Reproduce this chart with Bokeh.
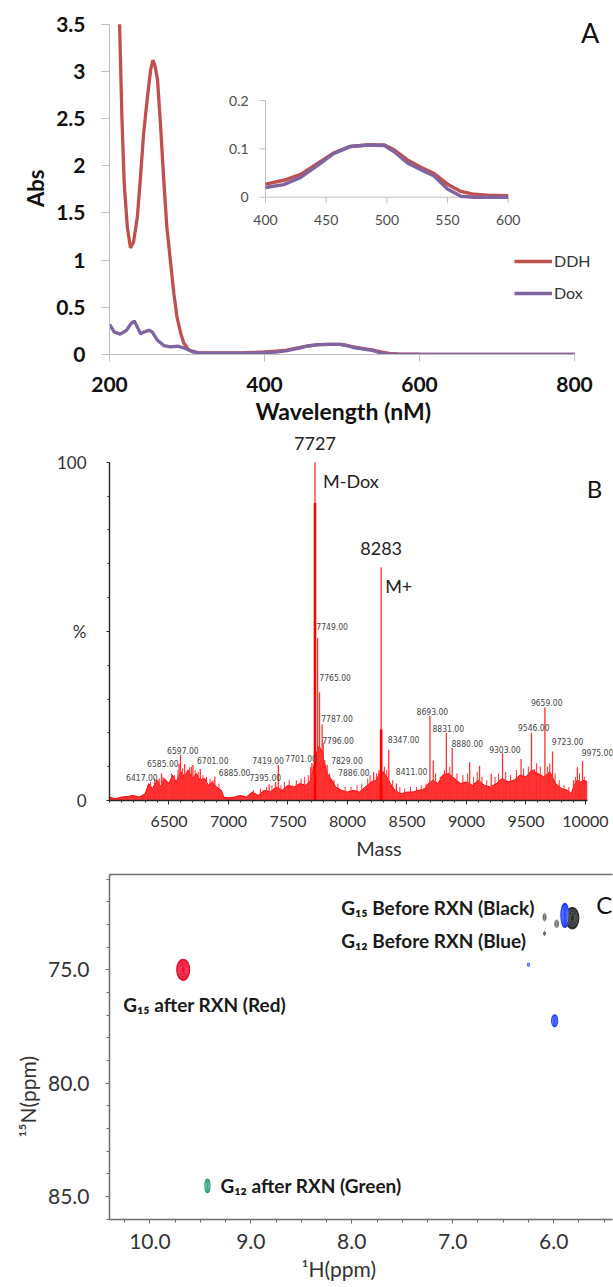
import math
from bokeh.plotting import figure
from bokeh.models import Range1d, LinearAxis, FixedTicker, Legend, LegendItem, Label, Title
from bokeh.layouts import column
from bokeh.embed import file_html
from bokeh.resources import INLINE
from bokeh.core.properties import value

FONT = "Lato"
NARROW = "'DejaVu Sans Condensed', 'Liberation Sans'"

# ======================= DATA =======================
# ---- Panel A : UV-vis absorbance ----
uv_wl_ddh = [213, 216, 219, 223, 227, 231, 236, 240, 244, 249, 253, 256, 259, 262, 266,
             270, 274, 279, 283, 287, 292, 296, 302, 313, 330, 350, 375]
uv_abs_ddh = [3.5, 2.52, 1.81, 1.35, 1.13, 1.19, 1.46, 1.88, 2.34, 2.73, 3.01, 3.12, 3.05, 2.91, 2.41,
              1.85, 1.35, 0.96, 0.65, 0.40, 0.22, 0.12, 0.05, 0.02, 0.018, 0.017, 0.019]
uv_wl_dox = [200, 206, 214, 222, 228, 232, 236, 240, 245, 251, 255, 262, 270, 279, 289,
             298, 307, 317, 340, 360, 380]
uv_abs_dox = [0.32, 0.24, 0.215, 0.257, 0.33, 0.355, 0.29, 0.22, 0.24, 0.257, 0.24, 0.15, 0.095, 0.08, 0.088,
              0.063, 0.028, 0.017, 0.015, 0.015, 0.016]
vis_wl = [400, 415, 429, 443, 456, 470, 484, 498, 506, 517, 528, 539, 550, 561, 572, 583, 600]
vis_ddh = [0.027, 0.035, 0.047, 0.070, 0.091, 0.105, 0.108, 0.108, 0.098, 0.077, 0.062, 0.049,
           0.027, 0.012, 0.006, 0.004, 0.003]
vis_dox = [0.020, 0.026, 0.041, 0.066, 0.090, 0.105, 0.108, 0.107, 0.094, 0.071, 0.057, 0.044,
           0.017, 0.002, 0.0, 0.0, 0.0]
tail_wl = [650, 700, 750, 800]
tail_ddh = [0.002, 0.001, 0.001, 0.0]
tail_dox = [0.0, 0.0, 0.0, 0.0]
series_names = ["DDH", "Dox"]
a_xticks = [200, 400, 600, 800]
a_yticks = [0, 0.5, 1, 1.5, 2, 2.5, 3, 3.5]
a_ylabels = ["0", "0.5", "1", "1.5", "2", "2.5", "3", "3.5"]
inset_xticks = [400, 450, 500, 550, 600]
inset_yticks = [0, 0.1, 0.2]
inset_ylabels = ["0", "0.1", "0.2"]

# ---- Panel B : mass spectrum ----
b_env_mass = [6000, 6050, 6100, 6150, 6200, 6250, 6300, 6330, 6360, 6400, 6430, 6460, 6500, 6530, 6560,
              6600, 6630, 6660, 6700, 6730, 6760, 6800, 6830, 6860, 6900, 6940, 6960, 7000, 7050, 7100,
              7150, 7200, 7250, 7300, 7350, 7400, 7450, 7500, 7550, 7600, 7650, 7690, 7710, 7740, 7760,
              7780, 7800, 7830, 7870, 7900, 7950, 8000, 8050, 8100, 8150, 8200, 8240, 8270, 8300, 8330,
              8360, 8400, 8450, 8500, 8550, 8600, 8650, 8680, 8720, 8760, 8800, 8850, 8900, 8950, 9000,
              9050, 9100, 9150, 9200, 9250, 9300, 9350, 9400, 9450, 9500, 9550, 9600, 9650, 9700, 9750,
              9800, 9850, 9880, 9900, 9930, 9960, 9990, 10015]
b_env_int = [1.0, 0.5, 1.0, 1.2, 1.5, 1.0, 2.0, 5.0, 3.5, 6.0, 4.0, 6.5, 5.0, 7.5, 5.5,
             8.5, 7.0, 9.0, 6.5, 8.0, 6.0, 6.5, 4.5, 5.5, 4.0, 3.0, 1.0, 0.8, 1.0, 1.5,
             1.0, 2.5, 1.5, 3.0, 2.5, 4.0, 3.0, 4.5, 4.0, 5.0, 4.5, 6.0, 9.0, 14.0, 16.0,
             15.0, 12.0, 8.0, 6.0, 4.0, 3.0, 2.5, 3.0, 2.5, 4.0, 5.5, 6.0, 8.0, 8.5, 7.0,
             5.0, 3.0, 2.0, 2.5, 2.5, 3.0, 3.5, 5.0, 6.0, 5.0, 7.5, 8.0, 6.5, 5.0, 5.5,
             4.5, 6.0, 4.5, 4.0, 5.0, 6.5, 5.5, 6.0, 7.5, 7.0, 9.0, 8.0, 7.0, 8.5, 5.0,
             3.5, 3.0, 2.0, 4.0, 6.0, 5.5, 6.0, 5.5]
b_noise_mass = [6320, 6345, 6380, 6410, 6450, 6475, 6520, 6545, 6575, 6615, 6645, 6690, 6720, 6745,
                6785, 6815, 6845, 6870, 6920, 7210, 7270, 7320, 7365, 7440, 7470, 7510, 7570, 7610,
                7640, 7670, 7810, 7850, 7920, 7980, 8030, 8080, 8120, 8170, 8190, 8245, 8310, 8330,
                8380, 8440, 8480, 8530, 8580, 8620, 8660, 8740, 8780, 8815, 8860, 8920, 8970, 9010,
                9060, 9090, 9130, 9170, 9240, 9270, 9330, 9370, 9420, 9480, 9520, 9590, 9620, 9680,
                9700, 9745, 9780, 9820, 9860, 9915, 9950, 9990]
b_noise_int = [4.5, 5.5, 6.5, 5.0, 7.0, 6.0, 8.0, 7.5, 9.0, 9.5, 8.0, 10.0, 9.0, 8.5,
               7.5, 7.0, 6.5, 6.0, 5.0, 3.0, 3.5, 4.0, 4.5, 4.5, 5.5, 6.0, 6.0, 6.5,
               7.0, 7.5, 12.0, 8.0, 5.0, 4.0, 4.0, 4.5, 5.0, 6.5, 7.5, 8.0, 10.0, 9.0,
               6.0, 4.0, 3.5, 4.0, 4.0, 4.5, 5.0, 8.0, 7.0, 9.0, 10.0, 8.0, 7.5, 8.0,
               7.0, 8.5, 7.0, 6.0, 7.0, 8.0, 8.5, 7.5, 9.0, 9.5, 10.0, 11.0, 10.0, 10.0,
               11.0, 8.0, 6.0, 4.5, 4.0, 7.0, 8.0, 7.0]
b_stick_mass = [6417, 6437, 6585, 6597, 6632, 6674, 6701, 6763, 6885, 7342, 7395, 7419, 7537, 7690, 7701,
                7727, 7749, 7765, 7787, 7796, 7829, 7886, 8220, 8265, 8283, 8347, 8411, 8693, 8721, 8831,
                8880, 9027, 9110, 9208, 9303, 9459, 9546, 9570, 9659, 9723, 9900, 9932, 9975]
b_stick_int = [6.5, 8.0, 10.8, 13.5, 10.8, 9.8, 10.5, 9.3, 7.0, 4.8, 5.5, 10.5, 4.4, 9.8, 11.0,
               100.0, 48.0, 32.0, 22.5, 17.0, 10.5, 6.0, 8.4, 9.0, 69.0, 15.0, 5.0, 25.0, 11.8, 20.0,
               15.5, 11.3, 10.3, 7.9, 14.0, 12.3, 20.0, 9.3, 27.5, 14.5, 5.9, 9.8, 11.5]
b_core_mass = [7727, 8283]
b_core_int = [88.0, 21.0]
b_lab_mass = [6417, 6585, 6597, 6701, 6885, 7395, 7419, 7701, 7749, 7765, 7787, 7796, 7829, 7886,
              8347, 8411, 8693, 8831, 8880, 9303, 9546, 9659, 9723, 9975]
b_lab_int = [6.9, 10.9, 14.8, 11.8, 8.3, 6.8, 11.8, 12.4, 51.4, 36.5, 24.2, 17.7, 11.8, 8.4,
             18.0, 8.7, 26.3, 21.4, 16.9, 15.1, 21.7, 29.0, 17.4, 14.3]
b_main_mass = [7727, 8283]
b_main_int = [100.0, 69.0]
b_main_text = ["7727", "8283"]
b_main_species = ["M-Dox", "M+"]
b_xticks = [6500, 7000, 7500, 8000, 8500, 9000, 9500, 10000]
b_yticks = [0, 50, 100]
b_ylabels = ["0", "%", "100"]

# ---- Panel C : 1H-15N HSQC ----
c_peak_h = [9.67, 9.43, 5.815, 6.09, 6.09, 5.97, 5.889, 5.99, 6.25]
c_peak_n = [75.0, 84.53, 72.72, 72.68, 73.40, 72.97, 72.60, 77.25, 74.78]
c_peak_wh = [0.128, 0.05, 0.128, 0.03, 0.02, 0.04, 0.079, 0.06, 0.02]
c_peak_wn = [0.93, 0.60, 0.93, 0.35, 0.18, 0.35, 1.06, 0.53, 0.13]
c_peak_set = ["red", "green", "black", "black", "black", "black", "blue", "blue", "blue"]
c_lab_text = ["G\u2081\u2085 after RXN (Red)", "G\u2081\u2082 after RXN (Green)",
              "G\u2081\u2085 Before RXN (Black)", "G\u2081\u2082 Before RXN (Blue)"]
c_lab_h = [9.67, 9.43, 5.815, 5.889]
c_lab_n = [75.0, 84.53, 72.72, 72.60]
c_xticks = [10.0, 9.0, 8.0, 7.0, 6.0]
c_xlabels = ["10.0", "9.0", "8.0", "7.0", "6.0"]
c_yticks = [75.0, 80.0, 85.0]
c_ylabels = ["75.0", "80.0", "85.0"]

# ======================= STYLE HELPERS =======================
W = 613
DDH_C = "#C0504D"
DOX_C = "#8064A2"


def style_axis(ax, line_color, lw, size, color, bold, tick_out, minor_out, standoff):
    ax.axis_line_color = line_color
    ax.axis_line_width = lw
    ax.major_tick_line_color = line_color
    ax.minor_tick_line_color = line_color
    ax.major_tick_in = 0
    ax.major_tick_out = tick_out
    ax.minor_tick_in = 0
    ax.minor_tick_out = minor_out
    ax.major_label_text_font = FONT
    ax.major_label_text_font_size = f"{size}px"
    ax.major_label_text_color = color
    ax.major_label_text_font_style = "bold" if bold else "normal"
    ax.major_label_standoff = standoff


def base_fig(h, xr, yr, bl, br, bt, bb):
    p = figure(width=W, height=h, x_range=xr, y_range=yr, output_backend="svg",
               toolbar_location=None, min_border_left=bl, min_border_right=br,
               min_border_top=bt, min_border_bottom=bb)
    p.grid.visible = False
    p.outline_line_color = None
    return p


def side_title(p, text, where, size, bold, color, offset, standoff):
    # left-aligned title; offset = px from the frame's left (below) / bottom (left)
    t = Title(text=text, align="left", offset=offset, standoff=standoff, text_font=FONT,
              text_font_size=f"{size}px", text_font_style="bold" if bold else "normal",
              text_color=color)
    p.add_layout(t, where)


# ======================= PANEL A =======================
A_BL, A_BR, A_BT, A_BB, A_H = 109, 1, 10, 78, 432
fwA = W - A_BL - A_BR
fhA = A_H - A_BT - A_BB
a_px_nm = 465 / 600.0          # px per nm
a_px_abs = 330.3 / 3.5         # px per Abs unit
pA = base_fig(A_H, Range1d(200, 200 + fwA / a_px_nm), Range1d(0, fhA / a_px_abs),
              A_BL, A_BR, A_BT, A_BB)

style_axis(pA.xaxis[0], "#bfbfbf", 1, 21, "#111111", True, 7, 0, 15)
pA.xaxis.ticker = FixedTicker(ticks=a_xticks)
pA.xaxis.bounds = (a_xticks[0], a_xticks[-1])
style_axis(pA.yaxis[0], "#bfbfbf", 1, 21, "#111111", True, 8, 0, 16)
pA.yaxis.ticker = FixedTicker(ticks=a_yticks)
pA.yaxis.bounds = (a_yticks[0], a_yticks[-1])
pA.yaxis.major_label_overrides = {t: l for t, l in zip(a_yticks, a_ylabels)}
side_title(pA, "Wavelength (nM)", "below", 23, True, "#111111", 146, 0)
side_title(pA, "Abs", "left", 22, True, "#111111", 147.6, 10)

ddh_wl = uv_wl_ddh + vis_wl + tail_wl
ddh_abs = uv_abs_ddh + vis_ddh + tail_ddh
dox_wl = uv_wl_dox + vis_wl + tail_wl
dox_abs = uv_abs_dox + vis_dox + tail_dox
r_ddh = pA.line(ddh_wl, ddh_abs, line_color=DDH_C, line_width=3.3)
r_dox = pA.line(dox_wl, dox_abs, line_color=DOX_C, line_width=3.3)

# inset (own ranges mapped onto a sub-rectangle of the frame)
in_x0, in_x1 = 156.0, 398.7      # frame px (from left) of 400 and 600
in_y0, in_y1 = 186.7, 90.0       # frame px (from top) of 0 and 0.2
sx = (inset_xticks[-1] - inset_xticks[0]) / (in_x1 - in_x0)
sy = (inset_yticks[-1] - inset_yticks[0]) / (in_y0 - in_y1)
ix_start = inset_xticks[0] - in_x0 * sx
pA.extra_x_ranges = {"ix": Range1d(ix_start, ix_start + fwA * sx)}
iy_top = inset_yticks[-1] + in_y1 * sy
pA.extra_y_ranges = {"iy": Range1d(iy_top - fhA * sy, iy_top)}
IN = dict(x_range_name="ix", y_range_name="iy")
INSET_AX = "#bfbfbf"
pA.segment(x0=[inset_xticks[0]], y0=[inset_yticks[0]], x1=[inset_xticks[-1]], y1=[inset_yticks[0]],
           line_color=INSET_AX, line_width=1, **IN)
pA.segment(x0=[inset_xticks[0]], y0=[inset_yticks[0]], x1=[inset_xticks[0]], y1=[inset_yticks[-1]],
           line_color=INSET_AX, line_width=1, **IN)
pA.ray(x=[inset_xticks[0]] * len(inset_yticks), y=inset_yticks, length=6, length_units="screen",
       angle=math.pi, line_color=INSET_AX, **IN)
pA.ray(x=inset_xticks, y=[inset_yticks[0]] * len(inset_xticks), length=6, length_units="screen",
       angle=-math.pi / 2, line_color=INSET_AX, **IN)
pA.text(x=[inset_xticks[0]] * len(inset_yticks), y=inset_yticks, text=inset_ylabels,
        x_offset=-17, text_align="right", text_baseline="middle", text_font=value(FONT),
        text_font_size="14px", text_color="#4d4d4d", **IN)
pA.text(x=inset_xticks, y=[inset_yticks[0]] * len(inset_xticks), text=[str(t) for t in inset_xticks],
        y_offset=23, text_align="center", text_baseline="middle", text_font=value(FONT),
        text_font_size="14px", text_color="#4d4d4d", **IN)
pA.line(vis_wl, vis_ddh, line_color=DDH_C, line_width=3.4, **IN)
pA.line(vis_wl, vis_dox, line_color=DOX_C, line_width=3.4, **IN)

legA = Legend(items=[LegendItem(label=series_names[0], renderers=[r_ddh]),
                     LegendItem(label=series_names[1], renderers=[r_dox])],
              location=(405, 52), padding=0, margin=0, spacing=13, glyph_width=38,
              glyph_height=18, label_height=18, label_standoff=2,
              label_text_font=FONT, label_text_font_size="16px", label_text_color="#333333",
              border_line_alpha=0, background_fill_alpha=0)
pA.add_layout(legA)
pA.add_layout(Label(x=480.7, y=322.3, x_units="screen", y_units="screen", text="A",
                    text_font=FONT, text_font_size="27px", text_color="#111111",
                    text_align="center", text_baseline="middle"))

# ======================= PANEL B =======================
B_BL, B_BR, B_BT, B_BB, B_H = 106, 1, 0, 72, 440
b_px_per_mass = 0.1197
b_px_per_pct = 3.382
b_x0 = 6000
fwB = W - B_BL - B_BR
fhB = B_H - B_BT - B_BB
pB = base_fig(B_H, Range1d(b_x0, b_x0 + fwB / b_px_per_mass), Range1d(0, fhB / b_px_per_pct),
              B_BL, B_BR, B_BT, B_BB)
style_axis(pB.xaxis[0], "#262626", 1.4, 16, "#333333", False, 4, 2, 11)
pB.xaxis.ticker = FixedTicker(ticks=b_xticks, minor_ticks=list(range(6000, 10001, 100)))
pB.xaxis.bounds = (6000, 10020)
style_axis(pB.yaxis[0], "#262626", 1.4, 17, "#333333", False, 3, 2, 20)
pB.yaxis.ticker = FixedTicker(ticks=b_yticks, minor_ticks=list(range(0, 101, 10)))
pB.yaxis.major_label_overrides = {t: l for t, l in zip(b_yticks, b_ylabels)}
pB.yaxis.bounds = (0, 100)
side_title(pB, "Mass", "below", 20, False, "#333333", 246.7, 8)

SPEC = "#ff0000"
pB.varea(x=b_env_mass, y1=[0] * len(b_env_mass), y2=b_env_int, fill_color=SPEC, fill_alpha=0.8)
pB.line(b_env_mass, b_env_int, line_color=SPEC, line_width=1)
pB.segment(x0=b_noise_mass, y0=[0] * len(b_noise_mass), x1=b_noise_mass, y1=b_noise_int,
           line_color="#ff2a2a", line_width=1)
pB.segment(x0=b_stick_mass, y0=[0] * len(b_stick_mass), x1=b_stick_mass, y1=b_stick_int,
           line_color="#ff3030", line_width=1.3)
pB.segment(x0=b_core_mass, y0=[0] * len(b_core_mass), x1=b_core_mass, y1=b_core_int,
           line_color=SPEC, line_width=2.6)
b_lab_dx = [-33, -32, -13.5, 4, 4, -26, -26, -26.6, -1.3, -0.2, -0.9, -1, 4, 4.2,
            -0.9, -0.6, -13.4, -13.9, -0.7, -13.4, -13.5, -14, -0.7, -0.8]
pB.text(x=b_lab_mass, y=b_lab_int, text=[f"{m}.00" for m in b_lab_mass], x_offset=b_lab_dx,
        text_align="left", text_baseline="middle", text_font=value(NARROW), text_font_size="8.5px",
        text_color="#444444")
pB.text(x=b_main_mass, y=b_main_int, text=b_main_text, y_offset=-18.5, text_align="center",
        text_baseline="middle", text_font=value(FONT), text_font_size="18px", text_color="#222222")
pB.text(x=b_main_mass, y=b_main_int, text=b_main_species, x_offset=[8, 4], y_offset=19,
        text_align="left", text_baseline="middle", text_font=value(FONT), text_font_size="18px",
        text_color="#222222")
pB.add_layout(Label(x=485, y=312, x_units="screen", y_units="screen", text="B",
                    text_font=FONT, text_font_size="24px", text_color="#111111",
                    text_align="center", text_baseline="middle"))

# ======================= PANEL C =======================
C_BL, C_BR, C_BT, C_BB = 105, 1, 2, 68
C_H = 1287 - A_H - B_H
c_px_per_h = 101.75
c_px_per_n = 22.67
fwC = W - C_BL - C_BR
fhC = C_H - C_BT - C_BB
c_left = c_xticks[0] + 40.7 / c_px_per_h
c_top = c_yticks[0] - 95.3 / c_px_per_n
pC = base_fig(C_H, Range1d(c_left, c_left - fwC / c_px_per_h),
              Range1d(c_top + fhC / c_px_per_n, c_top), C_BL, C_BR, C_BT, C_BB)
FR = "#6e6e6e"
style_axis(pC.xaxis[0], FR, 1.5, 21, "#333333", False, 4, 3, 10)
pC.xaxis.ticker = FixedTicker(ticks=c_xticks, minor_ticks=[5.5 + 0.25 * i for i in range(20)])
pC.xaxis.major_label_overrides = {t: l for t, l in zip(c_xticks, c_xlabels)}
style_axis(pC.yaxis[0], FR, 1.5, 21, "#333333", False, 4, 3, 16)
pC.yaxis.ticker = FixedTicker(ticks=c_yticks, minor_ticks=list(range(71, 87)))
pC.yaxis.major_label_overrides = {t: l for t, l in zip(c_yticks, c_ylabels)}
top_ax = LinearAxis(ticker=FixedTicker(ticks=[]), axis_line_color=FR, axis_line_width=1.5,
                    major_tick_line_color=None, minor_tick_line_color=None,
                    major_tick_out=0, major_tick_in=0, minor_tick_out=0, minor_tick_in=0,
                    major_label_standoff=0, major_label_text_font_size="0px")
pC.add_layout(top_ax, "above")
side_title(pC, "\u00b9H(ppm)", "below", 21, False, "#333333", 192, 4)
side_title(pC, "\u00b9\u2075N(ppm)", "left", 21, False, "#333333", 82, 12)

PEAK_COL = {"red": "#e8102e", "green": "#1f9c72", "blue": "#1a3cff", "black": "#2b2b2b"}
order = [i for i, s in enumerate(c_peak_set) if s == "black"] + \
        [i for i, s in enumerate(c_peak_set) if s != "black"]
for lev in [1.0, 0.78, 0.56, 0.34]:
    for i in order:
        col = PEAK_COL[c_peak_set[i]]
        small = c_peak_wh[i] < 0.05 and c_peak_set[i] == "black"
        pC.ellipse(x=[c_peak_h[i]], y=[c_peak_n[i]], width=[c_peak_wh[i] * lev],
                   height=[c_peak_wn[i] * lev],
                   fill_color=None if small else col, fill_alpha=0 if small else 1.0,
                   line_color="#666666" if small else ("white" if lev < 1 else col),
                   line_width=0.8 if small else (0.5 if lev < 1 else 1.2),
                   line_alpha=1 if (small or lev == 1) else 0.5)

c_dx = [-60, 13, -231.2, -223.7]
c_dy = [34.4, 0, -10.5, 25.3]
pC.text(x=c_lab_h, y=c_lab_n, text=c_lab_text, x_offset=c_dx, y_offset=c_dy, text_align="left",
        text_baseline="middle", text_font=value(FONT), text_font_style="bold",
        text_font_size="19px", text_color="#1a1a1a")
pC.add_layout(Label(x=494.8, y=315.3, x_units="screen", y_units="screen", text="C",
                    text_font=FONT, text_font_size="24px", text_color="#111111",
                    text_align="center", text_baseline="middle"))

layout = column(pA, pB, pC, spacing=0)
open("out.html", "w").write(file_html(layout, INLINE))
